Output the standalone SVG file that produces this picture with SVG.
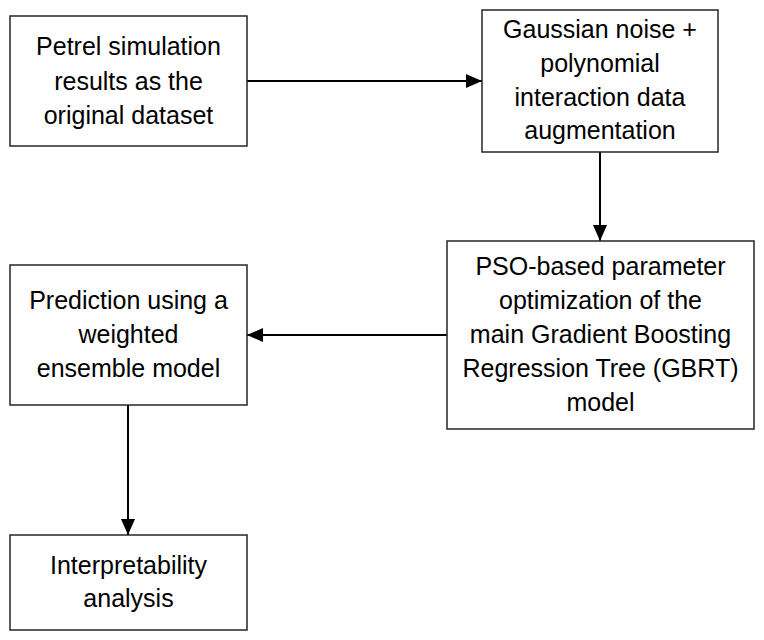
<svg xmlns="http://www.w3.org/2000/svg" width="764" height="640" viewBox="0 0 764 640">
<style>
.box{fill:#fff;stroke:#262626;stroke-width:1.5}
.t{font-family:"Liberation Sans",Arial,sans-serif;font-size:25px;fill:#000;text-anchor:middle}
.c{stroke:#000;stroke-width:2;fill:none;marker-end:url(#ah)}
</style>
<defs>
<marker id="ah" markerWidth="16" markerHeight="14" refX="16" refY="7" orient="auto" markerUnits="userSpaceOnUse">
<path d="M0,0 L16,7 L0,14 Z" fill="#000"/>
</marker>
</defs>
<rect width="764" height="640" fill="#fff"/>
<g id="connectors">
<line class="c" x1="247" y1="81" x2="482" y2="81"/>
<line class="c" x1="600" y1="152" x2="600" y2="241"/>
<line class="c" x1="447" y1="335" x2="247" y2="335"/>
<line class="c" x1="128" y1="405" x2="128" y2="535"/>
</g>
<g id="n1">
<rect class="box" x="10" y="16" width="237" height="130"/>
<text class="t" x="128.5" y="55">Petrel simulation</text>
<text class="t" x="128.5" y="90">results as the</text>
<text class="t" x="128.5" y="124">original dataset</text>
</g>
<g id="n2">
<rect class="box" x="482" y="10" width="236" height="142"/>
<text class="t" x="600" y="38">Gaussian noise +</text>
<text class="t" x="600" y="72">polynomial</text>
<text class="t" x="600" y="106">interaction data</text>
<text class="t" x="600" y="139">augmentation</text>
</g>
<g id="n3">
<rect class="box" x="447" y="241" width="307" height="188"/>
<text class="t" x="600.5" y="275">PSO-based parameter</text>
<text class="t" x="600.5" y="309">optimization of the</text>
<text class="t" x="600.5" y="343">main Gradient Boosting</text>
<text class="t" x="600.5" y="377">Regression Tree (GBRT)</text>
<text class="t" x="600.5" y="411">model</text>
</g>
<g id="n4">
<rect class="box" x="10" y="265" width="237" height="140"/>
<text class="t" x="128.5" y="309">Prediction using a</text>
<text class="t" x="128.5" y="343">weighted</text>
<text class="t" x="128.5" y="377">ensemble model</text>
</g>
<g id="n5">
<rect class="box" x="10" y="535" width="237" height="95"/>
<text class="t" x="128.5" y="574">Interpretability</text>
<text class="t" x="128.5" y="607">analysis</text>
</g>
</svg>
